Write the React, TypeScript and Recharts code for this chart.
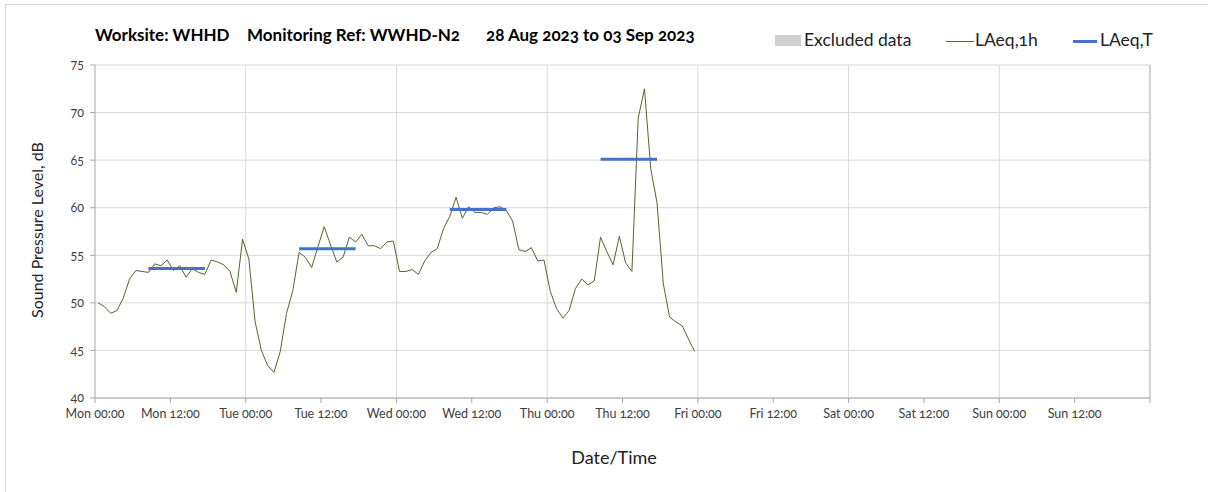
// Noise monitoring chart: hourly LAeq with period LAeq,T overlays
import React from 'react';
import {
  LineChart,
  Line,
  XAxis,
  YAxis,
  CartesianGrid,
  ReferenceLine,
} from 'recharts';

// Hourly LAeq,1h values from Mon 00:30 onwards (dB)
const laeq1h = [
  50.0, 49.6, 48.9, 49.2, 50.5, 52.5, 53.4, 53.3, 53.2, 54.1, 53.9, 54.5,
  53.4, 53.9, 52.7, 53.6, 53.2, 53.0, 54.5, 54.3, 54.0, 53.3, 51.1, 56.7,
  54.6, 48.0, 45.0, 43.4, 42.7, 44.9, 48.9, 51.3, 55.3, 54.8, 53.7, 55.9,
  58.0, 56.1, 54.3, 54.8, 56.9, 56.4, 57.2, 56.0, 56.0, 55.7, 56.4, 56.5,
  53.3, 53.3, 53.5, 53.0, 54.4, 55.3, 55.7, 57.8, 59.1, 61.1, 58.9, 60.1,
  59.5, 59.5, 59.3, 60.0, 60.1, 59.7, 58.6, 55.6, 55.4, 55.8, 54.4, 54.5,
  51.2, 49.4, 48.4, 49.2, 51.5, 52.5, 51.9, 52.3, 56.9, 55.4, 54.0, 57.0,
  54.2, 53.3, 69.4, 72.5, 64.1, 60.5, 52.0, 48.5, 48.0, 47.6, 46.2, 44.9,
];

// LAeq,T periods (hours from Mon 00:00) and levels
const periodStart = [8.5, 32.5, 56.5, 80.5];
const periodEnd = [17.5, 41.5, 65.5, 89.5];
const laeqT = [53.6, 55.7, 59.8, 65.1];

const xTicks = [0, 12, 24, 36, 48, 60, 72, 84, 96, 108, 120, 132, 144, 156, 168];
const xTickLabels = [
  'Mon 00:00', 'Mon 12:00', 'Tue 00:00', 'Tue 12:00', 'Wed 00:00', 'Wed 12:00',
  'Thu 00:00', 'Thu 12:00', 'Fri 00:00', 'Fri 12:00', 'Sat 00:00', 'Sat 12:00',
  'Sun 00:00', 'Sun 12:00', '',
];
const dayLines = [24, 48, 72, 96, 120, 144];
const yTicks = [40, 45, 50, 55, 60, 65, 70, 75];

const FONT = 'Lato, "Open Sans", sans-serif';
const GREEN = '#50672f';
const BLUE = '#4472c4';

const hourly = laeq1h.map((v, i) => ({ t: i + 0.5, v }));
const periods = laeqT.map((v, i) => [
  { t: periodStart[i], v },
  { t: periodEnd[i], v },
]);

const tickStyle = { fontSize: 12.5, fill: '#404040', fontFamily: FONT };

const titleStyle: React.CSSProperties = {
  position: 'absolute',
  top: 24,
  fontSize: 17,
  fontWeight: 700,
  color: '#000',
  whiteSpace: 'nowrap',
};
const legendText: React.CSSProperties = {
  position: 'absolute',
  top: 29,
  fontSize: 17.5,
  color: '#222',
  whiteSpace: 'nowrap',
};

export default function App() {
  return (
    <div
      style={{
        position: 'absolute',
        left: 0,
        top: 0,
        width: 1208,
        height: 492,
        background: '#fff',
        fontFamily: FONT,
        fontVariantNumeric: 'oldstyle-nums',
      }}
    >
      {/* outer frame edges */}
      <div style={{ position: 'absolute', left: 5, top: 4, right: 0, height: 1, background: '#d9d9d9' }} />
      <div style={{ position: 'absolute', left: 5, top: 4, bottom: 0, width: 1, background: '#d9d9d9' }} />

      {/* title */}
      <div style={{ ...titleStyle, left: 95 }}>Worksite: WHHD</div>
      <div style={{ ...titleStyle, left: 247 }}>Monitoring Ref: WWHD-N2</div>
      <div style={{ ...titleStyle, left: 486 }}>28 Aug 2023 to 03 Sep 2023</div>

      {/* legend */}
      <div style={{ position: 'absolute', top: 35, left: 775, width: 26, height: 11, background: '#d0d0d0' }} />
      <div style={{ ...legendText, left: 804 }}>Excluded data</div>
      <div style={{ position: 'absolute', top: 41, left: 946, width: 28, height: 1, background: GREEN }} />
      <div style={{ ...legendText, left: 975 }}>LAeq,1h</div>
      <div style={{ position: 'absolute', top: 40, left: 1073, width: 24, height: 3, background: BLUE }} />
      <div style={{ ...legendText, left: 1100 }}>LAeq,T</div>

      {/* axis titles */}
      <div
        style={{
          position: 'absolute',
          left: 36,
          top: 230,
          fontSize: 16,
          color: '#222',
          whiteSpace: 'nowrap',
          transform: 'translate(-50%, -50%) rotate(-90deg)',
        }}
      >
        Sound Pressure Level, dB
      </div>
      <div
        style={{
          position: 'absolute',
          left: 614,
          top: 457,
          fontSize: 18,
          color: '#222',
          whiteSpace: 'nowrap',
          transform: 'translate(-50%, -50%)',
        }}
      >
        Date/Time
      </div>

      <div style={{ position: 'absolute', left: 0, top: 0 }}>
        <LineChart
          width={1208}
          height={492}
          margin={{ top: 65, right: 58, bottom: 64, left: 0 }}
        >
          <CartesianGrid
            stroke="#d9d9d9"
            verticalValues={dayLines}
            horizontalValues={yTicks}
          />
          <XAxis
            type="number"
            dataKey="t"
            domain={[0, 168]}
            ticks={xTicks}
            tickFormatter={(v: number) => xTickLabels[xTicks.indexOf(v)] ?? ''}
            interval={0}
            stroke="#a6a6a6"
            tickSize={5}
            tickMargin={6}
            height={30}
            tick={tickStyle}
            allowDataOverflow
          />
          <YAxis
            type="number"
            domain={[40, 75]}
            ticks={yTicks}
            interval={0}
            width={95}
            stroke="#a6a6a6"
            tickSize={5}
            tickMargin={6}
            tick={tickStyle}
            allowDataOverflow
          />
          <ReferenceLine x={168} stroke="#a6a6a6" />
          <Line
            data={hourly}
            dataKey="v"
            type="linear"
            stroke={GREEN}
            strokeWidth={1}
            dot={false}
            isAnimationActive={false}
          />
          {periods.map((seg, i) => (
            <Line
              key={i}
              data={seg}
              dataKey="v"
              type="linear"
              stroke={BLUE}
              strokeWidth={3}
              dot={false}
              isAnimationActive={false}
            />
          ))}
        </LineChart>
      </div>
    </div>
  );
}
